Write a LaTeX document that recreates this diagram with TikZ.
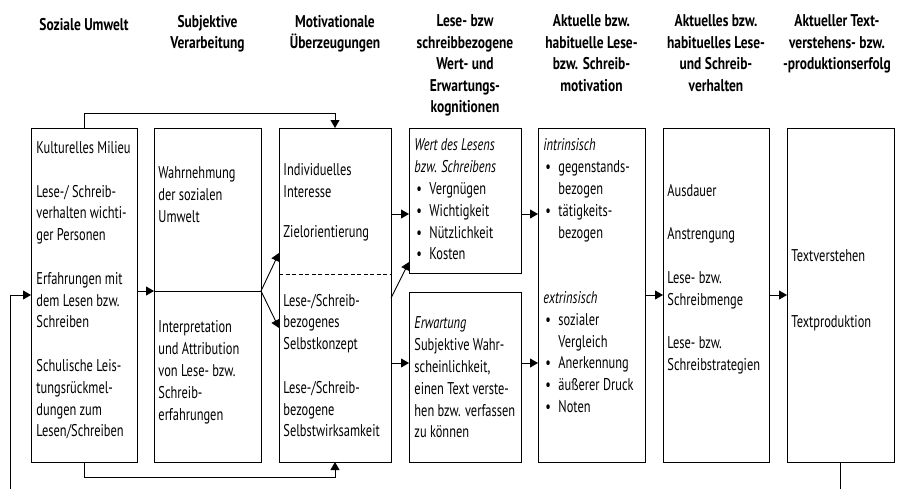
\documentclass[tikz,border=0pt]{standalone}
\usepackage{fontspec}
\setmainfont[FakeStretch=0.73,BoldFeatures={FakeStretch=0.79}]{PT Sans}
\usetikzlibrary{arrows.meta,positioning,calc}

\newcommand{\bulitem}{\makebox[15pt][l]{\hspace{2pt}\textbullet}}
\newcommand{\bulgap}{\hspace*{15pt}}

\begin{document}
\begin{tikzpicture}[x=1pt,y=-1pt,line width=0.9pt,>={Triangle[length=8pt,width=9pt]}]
    % Styles
    \tikzstyle{box}=[draw,inner sep=0pt,outer sep=0pt,minimum height=334pt]
    \tikzstyle{txt}=[anchor=north west,align=left,inner sep=0pt,font=\fontsize{17}{21.8}\selectfont,execute at begin node=\strut]
    \tikzstyle{head}=[anchor=north,align=center,inner sep=0pt,font=\fontsize{17}{21.5}\selectfont\bfseries,execute at begin node=\strut]

    \path[use as bounding box,clip] (0,0) rectangle (899,488);

    % Boxes, positions
    \node[box,minimum width=106pt] (b1) at (84,295) {};
    \node[box,minimum width=107pt,minimum height=163pt] (b2a) [right=17pt of b1.north east,anchor=north west] {};
    \node[box,minimum width=107pt,minimum height=171pt] (b2b) [below=0pt of b2a] {};
    \node[box,minimum width=112pt] (b3) [right=18pt of b2a.north east,anchor=north west] {};
    \node[box,minimum width=112pt,minimum height=145pt] (b4a) [right=18pt of b3.north east,anchor=north west] {};
    \node[box,minimum width=112pt,minimum height=170pt] (b4b) [below=19pt of b4a] {};
    \node[box,minimum width=107pt] (b5) [right=17pt of b4a.north east,anchor=north west] {};
    \node[box,minimum width=106pt] (b6) [right=18pt of b5.north east,anchor=north west] {};
    \node[box,minimum width=107pt] (b7) [right=18pt of b6.north east,anchor=north west] {};
    \draw[dash pattern=on 4pt off 2.5pt] ($(b3.north west)+(0,146)$) -- ($(b3.north east)+(0,146)$);

    % Column headings
    \node[head] (h1) at ($(b1.north)+(0,-113.5)$) {Soziale Umwelt};
    \node[head] (h2) at ($(b2a.north)+(0,-113.5)$) {Subjektive\\Verarbeitung};
    \node[head] (h3) at ($(b3.north)+(0,-113.5)$) {Motivationale\\Überzeugungen};
    \node[head] (h4) at ($(b4a.north)+(0,-113.5)$) {Lese- bzw\\schreibbezogene\\Wert- und\\Erwartungs-\\kognitionen};
    \node[head] (h5) at ($(b5.north)+(0,-113.5)$) {Aktuelle bzw.\\habituelle Lese-\\bzw. Schreib-\\motivation};
    \node[head] (h6) at ($(b6.north)+(0,-113.5)$) {Aktuelles bzw.\\habituelles Lese-\\und Schreib-\\verhalten};
    \node[head] (h7) at ($(b7.north)+(-3.5,-113.5)$) {Aktueller Text-\\verstehens- bzw.\\-produktionserfolg};

    % Box texts
    \node[txt] (t1) at ($(b1.north west)+(5,13)$) {Kulturelles Milieu\\[21.8pt]
        Lese-/ Schreib-\\verhalten wichti-\\ger Personen\\[21.8pt]
        Erfahrungen mit\\dem Lesen bzw.\\Schreiben\\[21.8pt]
        Schulische Leis-\\tungsrückmel-\\dungen zum\\Lesen/Schreiben};
    \node[txt] (t2a) at ($(b2a.north west)+(4,38.5)$) {Wahrnehmung\\der sozialen\\Umwelt};
    \node[txt] (t2b) at ($(b2b.north west)+(4,29.5)$) {Interpretation\\und Attribution\\von Lese- bzw.\\Schreib-\\erfahrungen};
    \node[txt] (t3a) at ($(b3.north west)+(4,35.5)$) {Individuelles\\Interesse\\[18pt]Zielorientierung};
    \node[txt] (t3b) at ($(b3.north west)+(4,165.5)$) {Lese-/Schreib-\\bezogenes\\Selbstkonzept\\[21.8pt]
        Lese-/Schreib-\\bezogene\\Selbstwirksamkeit};
    \node[txt] (t4a) at ($(b4a.north west)+(5,10.5)$) {\textit{Wert des Lesens}\\\textit{bzw. Schreibens}\\
        \bulitem Vergnügen\\\bulitem Wichtigkeit\\\bulitem Nützlichkeit\\\bulitem Kosten};
    \node[txt] (t4b) at ($(b4b.north west)+(5,24.5)$) {\textit{Erwartung}\\Subjektive Wahr-\\scheinlichkeit,\\
        einen Text verste-\\hen bzw. verfassen\\zu können};
    \node[txt] (t5) at ($(b5.north west)+(5,10.5)$) {\textit{intrinsisch}\\
        \bulitem gegenstands-\\\bulgap bezogen\\\bulitem tätigkeits-\\\bulgap bezogen\\[43.6pt]
        \textit{extrinsisch}\\
        \bulitem sozialer\\\bulgap Vergleich\\\bulitem Anerkennung\\\bulitem äußerer Druck\\\bulitem Noten};
    \node[txt] (t6) at ($(b6.north west)+(4,55.5)$) {Ausdauer\\[21.8pt]Anstrengung\\[21.8pt]
        Lese- bzw.\\Schreibmenge\\[21.8pt]Lese- bzw.\\Schreibstrategien};
    \node[txt] (t7) at ($(b7.north west)+(4,121.5)$) {Textverstehen\\[43.6pt]Textproduktion};

    % Connectors
    \draw[->] (b1.north) -- ++(0,-15) -| (b3.north);
    \draw[->] (b1.south) -- ++(0,15) -| (b3.south);
    \draw[->] (b7.south) -- ++(0,40) -| ($(b1.west)+(-21,0)$) -- (b1.west);
    \draw[->] (b1.east |- b2a.south) -- (b2a.south west);
    \draw[->] (b2a.south east) -- ($(b3.north west)+(0,125)$);
    \draw[->] (b2a.south east) -- ($(b3.north west)+(0,200)$);
    \draw[->] ($(b3.north east)+(0,86)$) -- ($(b4a.north west)+(0,86)$);
    \draw[->] ($(b3.north east)+(0,170)$) -- ($(b4a.south west)+(0,-11)$);
    \draw[->] ($(b3.north east)+(0,235)$) -- ($(b4b.north west)+(0,71)$);
    \draw[->] ($(b4a.north east)+(0,86)$) -- ($(b5.north west)+(0,86)$);
    \draw[->] ($(b4b.north east)+(0,71)$) -- ($(b5.north west)+(0,235)$);
    \path[->]
    (b5) edge (b6)
    (b6) edge (b7);

\end{tikzpicture}
\end{document}
